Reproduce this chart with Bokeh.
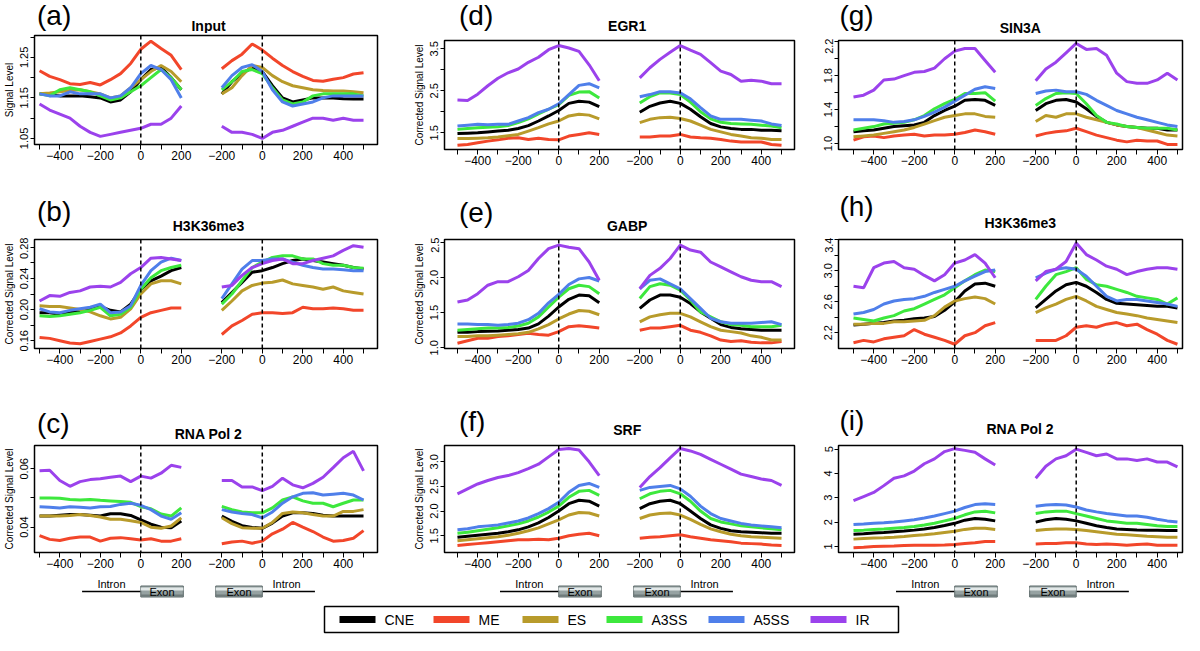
from bokeh.plotting import figure
from bokeh.models import Range1d, FixedTicker, Span
from bokeh.layouts import column, row
from bokeh.embed import file_html
from bokeh.resources import INLINE
from bokeh.core.properties import value

FONT = "Liberation Sans"
SERIES = ["CNE", "ME", "ES", "A3SS", "A5SS", "IR"]
COLORS = ["#000000", "#f2462a", "#b89b2b", "#3de83d", "#4f7fea", "#9b42ec"]

# positions (nt) around the splice site: intron->exon window and exon->intron window
POS_IE = [-500, -450, -400, -350, -300, -250, -200, -150, -100, -50, 0, 50, 100, 150, 200]
POS_EI = [-200, -150, -100, -50, 0, 50, 100, 150, 200, 250, 300, 350, 400, 450, 500]

X_TICKS_IE = [-500, -400, -300, -200, -100, 0, 100, 200]
X_LABELS_IE = ["", "\u2212400", "", "\u2212200", "", "0", "", "200"]
X_TICKS_EI = [-200, -100, 0, 100, 200, 300, 400, 500]
X_LABELS_EI = ["\u2212200", "", "0", "", "200", "", "400", ""]
EI_OFFSET = 600  # where the exon->intron window sits on the shared horizontal axis

# ---------------- (a) Input ----------------
a_ie = dict(
    CNE=[1.160, 1.158, 1.155, 1.155, 1.155, 1.153, 1.150, 1.140, 1.145, 1.165, 1.195, 1.220, 1.225, 1.200, 1.170],
    ME=[1.217, 1.203, 1.195, 1.185, 1.183, 1.188, 1.182, 1.195, 1.210, 1.235, 1.270, 1.290, 1.272, 1.255, 1.220],
    ES=[1.160, 1.162, 1.165, 1.168, 1.170, 1.165, 1.160, 1.150, 1.155, 1.175, 1.195, 1.215, 1.230, 1.215, 1.190],
    A3SS=[1.160, 1.155, 1.170, 1.175, 1.170, 1.165, 1.155, 1.145, 1.150, 1.165, 1.180, 1.200, 1.220, 1.200, 1.170],
    A5SS=[1.160, 1.155, 1.155, 1.165, 1.160, 1.160, 1.160, 1.150, 1.155, 1.175, 1.210, 1.230, 1.220, 1.195, 1.150],
    IR=[1.135, 1.120, 1.110, 1.100, 1.080, 1.065, 1.055, 1.060, 1.065, 1.070, 1.075, 1.085, 1.085, 1.100, 1.130],
)
a_ei = dict(
    CNE=[1.160, 1.190, 1.210, 1.225, 1.215, 1.180, 1.150, 1.140, 1.145, 1.150, 1.150, 1.150, 1.148, 1.147, 1.147],
    ME=[1.222, 1.242, 1.258, 1.283, 1.268, 1.248, 1.230, 1.215, 1.203, 1.193, 1.191, 1.196, 1.200, 1.209, 1.212],
    ES=[1.160, 1.175, 1.205, 1.230, 1.225, 1.205, 1.190, 1.180, 1.175, 1.170, 1.168, 1.167, 1.167, 1.165, 1.163],
    A3SS=[1.170, 1.190, 1.215, 1.220, 1.210, 1.175, 1.145, 1.135, 1.140, 1.155, 1.160, 1.160, 1.160, 1.160, 1.155],
    A5SS=[1.175, 1.205, 1.225, 1.232, 1.215, 1.170, 1.140, 1.130, 1.135, 1.140, 1.150, 1.155, 1.155, 1.155, 1.155],
    IR=[1.080, 1.065, 1.065, 1.060, 1.050, 1.065, 1.070, 1.080, 1.090, 1.100, 1.100, 1.095, 1.100, 1.095, 1.095],
)
# ---------------- (b) H3K36me3 ----------------
b_ie = dict(
    CNE=[0.196, 0.196, 0.194, 0.196, 0.199, 0.201, 0.204, 0.199, 0.197, 0.207, 0.226, 0.237, 0.243, 0.250, 0.254],
    ME=[0.164, 0.163, 0.160, 0.157, 0.156, 0.159, 0.162, 0.165, 0.170, 0.179, 0.190, 0.196, 0.199, 0.202, 0.202],
    ES=[0.205, 0.204, 0.204, 0.202, 0.200, 0.197, 0.192, 0.188, 0.190, 0.201, 0.220, 0.233, 0.237, 0.237, 0.233],
    A3SS=[0.192, 0.191, 0.192, 0.194, 0.196, 0.199, 0.203, 0.192, 0.194, 0.203, 0.226, 0.241, 0.250, 0.254, 0.257],
    A5SS=[0.201, 0.197, 0.196, 0.199, 0.201, 0.203, 0.207, 0.196, 0.197, 0.205, 0.231, 0.250, 0.261, 0.266, 0.263],
    IR=[0.211, 0.218, 0.217, 0.222, 0.224, 0.229, 0.230, 0.229, 0.235, 0.246, 0.254, 0.266, 0.267, 0.265, 0.263],
)
b_ei = dict(
    CNE=[0.209, 0.222, 0.235, 0.248, 0.250, 0.254, 0.259, 0.263, 0.265, 0.263, 0.261, 0.259, 0.257, 0.254, 0.252],
    ME=[0.168, 0.179, 0.186, 0.194, 0.196, 0.196, 0.195, 0.196, 0.203, 0.201, 0.201, 0.202, 0.201, 0.199, 0.199],
    ES=[0.199, 0.211, 0.224, 0.231, 0.234, 0.235, 0.238, 0.233, 0.231, 0.229, 0.226, 0.229, 0.224, 0.222, 0.220],
    A3SS=[0.207, 0.220, 0.237, 0.254, 0.261, 0.267, 0.269, 0.269, 0.265, 0.265, 0.259, 0.257, 0.257, 0.254, 0.253],
    A5SS=[0.214, 0.233, 0.252, 0.263, 0.263, 0.265, 0.265, 0.261, 0.257, 0.254, 0.252, 0.252, 0.251, 0.250, 0.250],
    IR=[0.229, 0.231, 0.244, 0.254, 0.259, 0.263, 0.265, 0.259, 0.259, 0.263, 0.266, 0.269, 0.276, 0.282, 0.280],
)
# ---------------- (c) RNA Pol 2 ----------------
c_ie = dict(
    CNE=[0.0438, 0.0438, 0.0441, 0.0443, 0.0443, 0.0441, 0.0438, 0.0446, 0.0446, 0.0440, 0.0425, 0.0410, 0.0400, 0.0398, 0.0421],
    ME=[0.0371, 0.0358, 0.0354, 0.0362, 0.0366, 0.0366, 0.0352, 0.0362, 0.0364, 0.0360, 0.0356, 0.0360, 0.0352, 0.0352, 0.0360],
    ES=[0.0438, 0.0438, 0.0438, 0.0440, 0.0443, 0.0440, 0.0435, 0.0427, 0.0427, 0.0422, 0.0416, 0.0400, 0.0396, 0.0404, 0.0432],
    A3SS=[0.0500, 0.0500, 0.0499, 0.0495, 0.0493, 0.0495, 0.0492, 0.0490, 0.0488, 0.0485, 0.0470, 0.0463, 0.0445, 0.0438, 0.0466],
    A5SS=[0.0470, 0.0468, 0.0466, 0.0470, 0.0468, 0.0466, 0.0470, 0.0471, 0.0478, 0.0482, 0.0475, 0.0460, 0.0438, 0.0427, 0.0449],
    IR=[0.0593, 0.0595, 0.0560, 0.0540, 0.0556, 0.0563, 0.0566, 0.0571, 0.0575, 0.0556, 0.0575, 0.0568, 0.0585, 0.0612, 0.0605],
)
c_ei = dict(
    CNE=[0.0438, 0.0420, 0.0405, 0.0399, 0.0396, 0.0414, 0.0438, 0.0449, 0.0449, 0.0447, 0.0441, 0.0438, 0.0438, 0.0438, 0.0438],
    ME=[0.0343, 0.0349, 0.0352, 0.0345, 0.0352, 0.0377, 0.0393, 0.0416, 0.0400, 0.0385, 0.0366, 0.0352, 0.0354, 0.0362, 0.0388],
    ES=[0.0432, 0.0412, 0.0398, 0.0396, 0.0396, 0.0416, 0.0447, 0.0452, 0.0449, 0.0443, 0.0438, 0.0438, 0.0454, 0.0454, 0.0460],
    A3SS=[0.0471, 0.0460, 0.0452, 0.0449, 0.0449, 0.0466, 0.0493, 0.0504, 0.0490, 0.0482, 0.0482, 0.0470, 0.0482, 0.0493, 0.0493],
    A5SS=[0.0460, 0.0452, 0.0447, 0.0443, 0.0432, 0.0452, 0.0482, 0.0504, 0.0516, 0.0518, 0.0510, 0.0513, 0.0516, 0.0510, 0.0493],
    IR=[0.0560, 0.0560, 0.0538, 0.0538, 0.0525, 0.0540, 0.0568, 0.0545, 0.0535, 0.0550, 0.0571, 0.0604, 0.0638, 0.0660, 0.0593],
)
# ---------------- (d) EGR1 ----------------
d_ie = dict(
    CNE=[1.48, 1.49, 1.50, 1.52, 1.54, 1.56, 1.60, 1.67, 1.78, 1.90, 2.03, 2.20, 2.25, 2.23, 2.12],
    ME=[1.20, 1.22, 1.26, 1.30, 1.33, 1.37, 1.38, 1.34, 1.37, 1.34, 1.33, 1.42, 1.46, 1.50, 1.46],
    ES=[1.36, 1.36, 1.37, 1.38, 1.40, 1.43, 1.46, 1.54, 1.62, 1.71, 1.78, 1.90, 1.94, 1.92, 1.83],
    A3SS=[1.58, 1.60, 1.62, 1.63, 1.64, 1.67, 1.74, 1.83, 1.95, 2.06, 2.17, 2.39, 2.47, 2.48, 2.33],
    A5SS=[1.66, 1.68, 1.70, 1.69, 1.70, 1.70, 1.78, 1.86, 1.98, 2.06, 2.19, 2.41, 2.63, 2.67, 2.57],
    IR=[2.28, 2.27, 2.42, 2.62, 2.80, 2.93, 3.02, 3.18, 3.30, 3.48, 3.58, 3.52, 3.44, 3.12, 2.74],
)
d_ei = dict(
    CNE=[1.99, 2.13, 2.21, 2.25, 2.20, 2.06, 1.88, 1.72, 1.64, 1.60, 1.58, 1.58, 1.56, 1.56, 1.55],
    ME=[1.40, 1.40, 1.42, 1.42, 1.46, 1.40, 1.38, 1.37, 1.34, 1.30, 1.28, 1.28, 1.28, 1.22, 1.20],
    ES=[1.74, 1.82, 1.86, 1.87, 1.84, 1.78, 1.68, 1.58, 1.52, 1.46, 1.42, 1.38, 1.37, 1.34, 1.34],
    A3SS=[2.21, 2.36, 2.45, 2.45, 2.41, 2.23, 2.00, 1.83, 1.75, 1.72, 1.71, 1.70, 1.68, 1.66, 1.62],
    A5SS=[2.36, 2.41, 2.48, 2.48, 2.45, 2.31, 2.10, 1.90, 1.82, 1.82, 1.82, 1.80, 1.78, 1.71, 1.67],
    IR=[2.81, 3.05, 3.25, 3.42, 3.58, 3.47, 3.37, 3.17, 2.97, 2.89, 2.73, 2.75, 2.73, 2.67, 2.67],
)
# ---------------- (e) GABP ----------------
e_ie = dict(
    CNE=[1.22, 1.22, 1.23, 1.235, 1.24, 1.25, 1.26, 1.28, 1.34, 1.45, 1.58, 1.69, 1.75, 1.74, 1.64],
    ME=[1.065, 1.10, 1.135, 1.135, 1.16, 1.17, 1.19, 1.205, 1.19, 1.18, 1.23, 1.30, 1.315, 1.30, 1.28],
    ES=[1.16, 1.16, 1.17, 1.17, 1.18, 1.19, 1.20, 1.22, 1.27, 1.33, 1.41, 1.48, 1.53, 1.52, 1.47],
    A3SS=[1.25, 1.26, 1.27, 1.28, 1.28, 1.29, 1.31, 1.35, 1.44, 1.58, 1.72, 1.84, 1.89, 1.87, 1.77],
    A5SS=[1.34, 1.34, 1.33, 1.33, 1.32, 1.33, 1.35, 1.40, 1.49, 1.64, 1.76, 1.90, 1.98, 2.00, 1.95],
    IR=[1.65, 1.68, 1.77, 1.89, 1.94, 1.94, 2.01, 2.10, 2.27, 2.41, 2.46, 2.43, 2.41, 2.22, 1.96],
)
e_ei = dict(
    CNE=[1.56, 1.68, 1.75, 1.75, 1.72, 1.63, 1.51, 1.42, 1.33, 1.29, 1.27, 1.26, 1.25, 1.25, 1.25],
    ME=[1.25, 1.28, 1.28, 1.30, 1.32, 1.25, 1.22, 1.17, 1.11, 1.09, 1.10, 1.08, 1.07, 1.07, 1.09],
    ES=[1.37, 1.44, 1.47, 1.49, 1.49, 1.44, 1.37, 1.30, 1.25, 1.23, 1.21, 1.17, 1.15, 1.11, 1.11],
    A3SS=[1.70, 1.87, 1.91, 1.89, 1.82, 1.68, 1.51, 1.44, 1.37, 1.33, 1.32, 1.30, 1.30, 1.30, 1.32],
    A5SS=[1.84, 1.96, 1.98, 1.91, 1.84, 1.70, 1.56, 1.42, 1.37, 1.35, 1.35, 1.35, 1.36, 1.37, 1.33],
    IR=[1.84, 2.03, 2.13, 2.27, 2.46, 2.39, 2.36, 2.22, 2.15, 2.08, 2.01, 1.96, 1.94, 1.94, 1.87],
)
# ---------------- (f) SRF ----------------
f_ie = dict(
    CNE=[1.47, 1.49, 1.51, 1.53, 1.55, 1.58, 1.62, 1.68, 1.76, 1.87, 2.00, 2.15, 2.22, 2.20, 2.10],
    ME=[1.30, 1.32, 1.34, 1.36, 1.38, 1.40, 1.42, 1.42, 1.43, 1.42, 1.45, 1.50, 1.53, 1.55, 1.50],
    ES=[1.40, 1.42, 1.44, 1.46, 1.48, 1.51, 1.55, 1.60, 1.66, 1.74, 1.82, 1.92, 1.97, 1.96, 1.90],
    A3SS=[1.55, 1.57, 1.60, 1.63, 1.66, 1.70, 1.74, 1.80, 1.88, 1.98, 2.10, 2.28, 2.40, 2.42, 2.32],
    A5SS=[1.62, 1.64, 1.68, 1.70, 1.72, 1.76, 1.80, 1.86, 1.95, 2.05, 2.18, 2.38, 2.52, 2.56, 2.48],
    IR=[2.35, 2.45, 2.55, 2.62, 2.68, 2.72, 2.78, 2.86, 2.95, 3.10, 3.25, 3.27, 3.24, 3.00, 2.72],
)
f_ei = dict(
    CNE=[2.05, 2.15, 2.20, 2.22, 2.15, 2.00, 1.85, 1.72, 1.65, 1.60, 1.58, 1.57, 1.56, 1.55, 1.55],
    ME=[1.45, 1.47, 1.48, 1.50, 1.52, 1.48, 1.45, 1.42, 1.40, 1.38, 1.35, 1.34, 1.33, 1.31, 1.30],
    ES=[1.85, 1.92, 1.95, 1.96, 1.92, 1.83, 1.73, 1.64, 1.58, 1.53, 1.50, 1.48, 1.47, 1.46, 1.45],
    A3SS=[2.25, 2.35, 2.40, 2.42, 2.35, 2.20, 2.00, 1.85, 1.78, 1.74, 1.70, 1.68, 1.66, 1.64, 1.62],
    A5SS=[2.42, 2.48, 2.50, 2.52, 2.45, 2.30, 2.10, 1.95, 1.85, 1.80, 1.75, 1.72, 1.70, 1.68, 1.66],
    IR=[2.48, 2.70, 2.88, 3.08, 3.27, 3.22, 3.15, 3.05, 2.95, 2.85, 2.75, 2.70, 2.65, 2.62, 2.52],
)
# ---------------- (g) SIN3A ----------------
g_ie = dict(
    CNE=[1.14, 1.15, 1.16, 1.18, 1.20, 1.21, 1.22, 1.25, 1.33, 1.39, 1.44, 1.51, 1.52, 1.51, 1.45],
    ME=[1.04, 1.08, 1.09, 1.07, 1.09, 1.10, 1.11, 1.09, 1.10, 1.10, 1.11, 1.13, 1.16, 1.14, 1.11],
    ES=[1.08, 1.09, 1.10, 1.12, 1.14, 1.16, 1.19, 1.23, 1.27, 1.31, 1.33, 1.35, 1.35, 1.32, 1.31],
    A3SS=[1.16, 1.18, 1.20, 1.23, 1.24, 1.25, 1.28, 1.33, 1.41, 1.47, 1.52, 1.59, 1.59, 1.60, 1.50],
    A5SS=[1.28, 1.28, 1.28, 1.27, 1.25, 1.26, 1.28, 1.32, 1.37, 1.43, 1.50, 1.57, 1.64, 1.67, 1.65],
    IR=[1.55, 1.57, 1.63, 1.75, 1.76, 1.80, 1.84, 1.85, 1.89, 2.00, 2.09, 2.12, 2.12, 1.98, 1.84],
)
g_ei = dict(
    CNE=[1.39, 1.47, 1.51, 1.52, 1.49, 1.41, 1.32, 1.25, 1.22, 1.20, 1.19, 1.18, 1.18, 1.16, 1.16],
    ME=[1.09, 1.12, 1.14, 1.15, 1.18, 1.14, 1.10, 1.07, 1.04, 1.02, 1.04, 1.03, 1.03, 0.99, 0.99],
    ES=[1.26, 1.33, 1.31, 1.35, 1.35, 1.31, 1.28, 1.25, 1.22, 1.20, 1.19, 1.16, 1.13, 1.10, 1.09],
    A3SS=[1.45, 1.53, 1.59, 1.60, 1.59, 1.47, 1.33, 1.25, 1.23, 1.20, 1.19, 1.18, 1.18, 1.18, 1.16],
    A5SS=[1.59, 1.62, 1.63, 1.61, 1.61, 1.58, 1.51, 1.45, 1.39, 1.35, 1.31, 1.28, 1.25, 1.22, 1.20],
    IR=[1.74, 1.88, 1.96, 2.07, 2.18, 2.11, 2.12, 2.04, 1.83, 1.73, 1.71, 1.71, 1.75, 1.83, 1.75],
)
# ---------------- (h) H3K36me3 ----------------
h_ie = dict(
    CNE=[2.30, 2.31, 2.32, 2.33, 2.35, 2.36, 2.38, 2.39, 2.41, 2.49, 2.60, 2.74, 2.83, 2.84, 2.80],
    ME=[2.07, 2.10, 2.08, 2.12, 2.14, 2.16, 2.24, 2.18, 2.14, 2.10, 2.05, 2.16, 2.20, 2.29, 2.33],
    ES=[2.31, 2.31, 2.32, 2.32, 2.34, 2.34, 2.35, 2.36, 2.42, 2.53, 2.61, 2.64, 2.66, 2.64, 2.57],
    A3SS=[2.39, 2.37, 2.35, 2.39, 2.42, 2.48, 2.51, 2.57, 2.63, 2.69, 2.78, 2.87, 2.95, 3.01, 2.99],
    A5SS=[2.44, 2.46, 2.50, 2.57, 2.61, 2.63, 2.64, 2.67, 2.72, 2.76, 2.80, 2.87, 2.93, 2.99, 3.01],
    IR=[2.80, 2.78, 3.04, 3.10, 3.12, 3.04, 3.02, 2.94, 2.87, 2.95, 3.10, 3.14, 3.21, 3.10, 2.91],
)
h_ei = dict(
    CNE=[2.52, 2.63, 2.74, 2.82, 2.85, 2.80, 2.72, 2.63, 2.58, 2.57, 2.56, 2.55, 2.54, 2.54, 2.52],
    ME=[2.10, 2.10, 2.10, 2.16, 2.27, 2.29, 2.27, 2.31, 2.33, 2.29, 2.31, 2.24, 2.18, 2.10, 2.05],
    ES=[2.46, 2.52, 2.57, 2.63, 2.67, 2.61, 2.54, 2.50, 2.46, 2.44, 2.42, 2.39, 2.37, 2.35, 2.33],
    A3SS=[2.63, 2.80, 2.95, 2.99, 3.04, 2.89, 2.82, 2.80, 2.76, 2.72, 2.67, 2.65, 2.63, 2.57, 2.65],
    A5SS=[2.91, 2.97, 3.02, 3.04, 3.02, 2.93, 2.80, 2.67, 2.61, 2.63, 2.63, 2.61, 2.59, 2.57, 2.54],
    IR=[2.87, 2.99, 3.02, 3.12, 3.36, 3.21, 3.14, 3.06, 3.02, 2.95, 2.99, 3.02, 3.04, 3.04, 3.02],
)
# ---------------- (i) RNA Pol 2 ----------------
i_ie = dict(
    CNE=[1.50, 1.52, 1.55, 1.57, 1.60, 1.63, 1.67, 1.72, 1.78, 1.86, 1.95, 2.08, 2.15, 2.12, 2.05],
    ME=[0.95, 0.97, 1.00, 1.01, 1.02, 1.04, 1.05, 1.05, 1.05, 1.06, 1.08, 1.12, 1.15, 1.20, 1.20],
    ES=[1.30, 1.33, 1.35, 1.36, 1.38, 1.41, 1.45, 1.48, 1.52, 1.57, 1.62, 1.70, 1.75, 1.75, 1.70],
    A3SS=[1.65, 1.67, 1.70, 1.72, 1.75, 1.78, 1.82, 1.88, 1.95, 2.05, 2.15, 2.30, 2.42, 2.45, 2.38],
    A5SS=[1.90, 1.92, 1.95, 1.97, 2.00, 2.05, 2.10, 2.17, 2.25, 2.35, 2.45, 2.60, 2.72, 2.75, 2.72],
    IR=[2.88, 3.05, 3.22, 3.50, 3.80, 3.90, 4.10, 4.40, 4.60, 4.90, 5.02, 4.95, 4.87, 4.60, 4.35],
)
i_ei = dict(
    CNE=[2.00, 2.10, 2.15, 2.12, 2.05, 1.95, 1.85, 1.78, 1.72, 1.70, 1.68, 1.67, 1.66, 1.65, 1.65],
    ME=[1.10, 1.12, 1.12, 1.15, 1.15, 1.10, 1.08, 1.10, 1.08, 1.05, 1.08, 1.10, 1.05, 1.05, 1.05],
    ES=[1.65, 1.70, 1.72, 1.72, 1.70, 1.65, 1.60, 1.55, 1.50, 1.48, 1.45, 1.42, 1.40, 1.38, 1.38],
    A3SS=[2.35, 2.42, 2.45, 2.45, 2.35, 2.25, 2.15, 2.05, 2.00, 1.95, 1.95, 1.90, 1.85, 1.82, 1.82],
    A5SS=[2.65, 2.70, 2.72, 2.70, 2.62, 2.50, 2.42, 2.35, 2.30, 2.25, 2.25, 2.20, 2.12, 2.05, 2.00],
    IR=[3.80, 4.30, 4.60, 4.73, 5.00, 4.87, 4.73, 4.80, 4.60, 4.60, 4.53, 4.60, 4.47, 4.47, 4.27],
)

# panel texts, ordered [column][row]
PANEL_TITLES = [["Input", "H3K36me3", "RNA Pol 2"], ["EGR1", "GABP", "SRF"], ["SIN3A", "H3K36me3", "RNA Pol 2"]]
PANEL_TAGS = [["(a)", "(b)", "(c)"], ["(d)", "(e)", "(f)"], ["(g)", "(h)", "(i)"]]
Y_TITLES = [["Signal Level", "Corrected Signal Level", "Corrected Signal Level"],
            ["Corrected Signal Level", "Corrected Signal Level", "Corrected Signal Level"],
            [None, None, None]]
DATA = [[(a_ie, a_ei), (b_ie, b_ei), (c_ie, c_ei)],
        [(d_ie, d_ei), (e_ie, e_ei), (f_ie, f_ei)],
        [(g_ie, g_ei), (h_ie, h_ei), (i_ie, i_ei)]]
Y_RANGES = [[(1.035, 1.304), (0.150, 0.290), (0.0313, 0.068)],
            [(1.10, 3.70), (0.99, 2.54), (1.16, 3.33)],
            [(0.93, 2.215), (1.995, 3.405), (0.75, 5.15)]]
Y_TICKS = [[[1.05, 1.10, 1.15, 1.20, 1.25, 1.30], [0.16, 0.18, 0.20, 0.22, 0.24, 0.26, 0.28], [0.04, 0.05, 0.06]],
           [[1.5, 2.0, 2.5, 3.0, 3.5], [1.0, 1.5, 2.0, 2.5], [1.5, 2.0, 2.5, 3.0]],
           [[1.0, 1.2, 1.4, 1.6, 1.8, 2.0, 2.2], [2.2, 2.4, 2.6, 2.8, 3.0, 3.2, 3.4], [1, 2, 3, 4, 5]]]
Y_TICK_LABELS = [[["1.05", "", "1.15", "", "1.25", ""], ["0.16", "", "0.20", "", "0.24", "", "0.28"], ["0.04", "", "0.06"]],
                 [["1.5", "", "2.5", "", "3.5"], ["1.0", "1.5", "2.0", "2.5"], ["1.5", "2.0", "2.5", "3.0"]],
                 [["1.0", "", "1.4", "", "1.8", "", "2.2"], ["2.2", "", "2.6", "", "3.0", "", "3.4"], ["1", "2", "3", "4", "5"]]]

# ---------------- layout constants (pixels) ----------------
COL_FIG_W = [405, 410, 369]
COL_BL = [34, 39, 23]
COL_FW = [343, 350, 344]
COL_XR = [(-525, 1169), (-564, 1164), (-574, 1125)]
COL_TAG_DX = [-31, -22, -22]
ROW_FIG_H = [190, 212, 169]
FRAME_H = [109, 109, 107]
TOP_BORDER = [[35, 49, 43], [40, 49, 43], [40, 49, 43]]   # [col][row]: space above each frame
TITLE_UP = [[10, 14, 12], [15, 14, 16], [13, 17, 17]]
TAG_UP = [[20, 28, 22], [25, 27, 24], [25, 33, 25]]
PAD_TOP = 2
GENE_H = 31
LEG_H = 33
PAGE_W = 1184


def bare_figure(width, height, xr, yr, left=0, right=0, extra=None):
    f = figure(width=width, height=height, output_backend="svg", toolbar_location=None,
               x_range=Range1d(*xr), y_range=Range1d(*yr),
               extra_x_ranges=extra or {},
               x_axis_location=None, y_axis_location=None,
               min_border_left=left, min_border_right=right, min_border_top=0, min_border_bottom=0)
    f.xgrid.visible = False
    f.ygrid.visible = False
    f.outline_line_color = None
    f.background_fill_color = "white"
    f.border_fill_color = "white"
    return f


def make_header(ci, ri):
    W = COL_FIG_W[ci]
    hh = TOP_BORDER[ci][ri] - PAD_TOP
    h = bare_figure(W, hh, (0, W), (0, hh))
    cx = COL_BL[ci] + COL_FW[ci] / 2
    h.text(x=[cx], y=[TITLE_UP[ci][ri] - PAD_TOP], text=[PANEL_TITLES[ci][ri]],
           text_font=value(FONT), text_font_style="bold", text_font_size=value("14px"),
           text_align="center", text_baseline="middle", text_color="black")
    h.text(x=[COL_BL[ci] + COL_TAG_DX[ci]], y=[TAG_UP[ci][ri] - PAD_TOP], text=[PANEL_TAGS[ci][ri]],
           text_font=value(FONT), text_font_size=value("28px"),
           text_align="left", text_baseline="middle", text_color="black")
    return h


def make_panel(ci, ri):
    W = COL_FIG_W[ci]
    H = ROW_FIG_H[ri] - (TOP_BORDER[ci][ri] - PAD_TOP)
    left, fw = COL_BL[ci], COL_FW[ci]
    fh = FRAME_H[ri]
    xr = COL_XR[ci]
    p = figure(width=W, height=H, output_backend="svg", toolbar_location=None,
               x_range=Range1d(*xr), y_range=Range1d(*Y_RANGES[ci][ri]),
               extra_x_ranges={"ei": Range1d(xr[0] - EI_OFFSET, xr[1] - EI_OFFSET)},
               min_border_left=left, min_border_right=W - left - fw,
               min_border_top=PAD_TOP, min_border_bottom=H - PAD_TOP - fh)
    p.xgrid.visible = False
    p.ygrid.visible = False
    p.outline_line_color = "black"
    p.outline_line_width = 1.5
    p.outline_line_alpha = 1.0
    p.background_fill_color = "white"
    p.border_fill_color = "white"

    ticks = X_TICKS_IE + [t + EI_OFFSET for t in X_TICKS_EI]
    labels = X_LABELS_IE + X_LABELS_EI
    ax = p.xaxis[0]
    ax.ticker = FixedTicker(ticks=ticks, minor_ticks=[])
    ax.major_label_overrides = {t: l for t, l in zip(ticks, labels)}
    ax.axis_line_color = None
    ax.major_tick_in = 0
    ax.major_tick_out = 5
    ax.major_tick_line_color = "black"
    ax.minor_tick_line_color = None
    ax.major_label_standoff = 1
    ax.major_label_text_font = FONT
    ax.major_label_text_font_size = "12px"
    ax.major_label_text_color = "black"

    ay = p.yaxis[0]
    yt = Y_TICKS[ci][ri]
    ay.ticker = FixedTicker(ticks=yt, minor_ticks=[])
    ay.major_label_overrides = {t: l for t, l in zip(yt, Y_TICK_LABELS[ci][ri])}
    ay.axis_line_color = None
    ay.major_tick_in = 0
    ay.major_tick_out = 4
    ay.major_tick_line_color = "black"
    ay.minor_tick_line_color = None
    ay.major_label_orientation = "parallel"
    ay.major_label_standoff = 2
    ay.major_label_text_font = FONT
    ay.major_label_text_font_size = "11px"
    ay.major_label_text_color = "black"
    if Y_TITLES[ci][ri]:
        ay.axis_label = Y_TITLES[ci][ri]
        ay.axis_label_text_font = FONT
        ay.axis_label_text_font_size = "10px"
        ay.axis_label_text_font_style = "normal"
        ay.axis_label_text_color = "black"
        ay.axis_label_standoff = 3

    ie, ei = DATA[ci][ri]
    for name, color in zip(SERIES, COLORS):
        p.line(POS_IE, ie[name], line_color=color, line_width=3)
        p.line(POS_EI, ei[name], line_color=color, line_width=3, x_range_name="ei")

    p.add_layout(Span(location=0, dimension="height", line_color="black",
                      line_dash="4 3", line_width=1.5))
    p.add_layout(Span(location=0, dimension="height", line_color="black",
                      line_dash="4 3", line_width=1.5, x_range_name="ei"))
    return p


def draw_exon(g, x0, x1, rname, ymid):
    g.quad(left=[x0], right=[x1], bottom=[ymid - 5.5], top=[ymid + 5.5],
           fill_color="#96a2a2", line_color="#5d6a6a", line_width=1, x_range_name=rname)
    g.quad(left=[x0], right=[x1], bottom=[ymid + 1.0], top=[ymid + 4.0],
           fill_color="#e2e8e8", line_color=None, x_range_name=rname)
    g.quad(left=[x0], right=[x1], bottom=[ymid - 5.0], top=[ymid - 3.0],
           fill_color="#6f7b7b", line_color=None, x_range_name=rname)
    g.text(x=[(x0 + x1) / 2], y=[ymid - 0.5], text=["Exon"], x_range_name=rname,
           text_font=value(FONT), text_font_size=value("11px"), text_align="center",
           text_baseline="middle", text_color="black")


def make_gene(ci):
    W, left, fw = COL_FIG_W[ci], COL_BL[ci], COL_FW[ci]
    xr = COL_XR[ci]
    g = bare_figure(W, GENE_H, xr, (0, GENE_H), left=left, right=W - left - fw,
                    extra={"ei": Range1d(xr[0] - EI_OFFSET, xr[1] - EI_OFFSET)})
    ly = 11
    # intron -> exon
    g.segment(x0=[-290], y0=[ly], x1=[0], y1=[ly], line_color="black", line_width=1.5)
    draw_exon(g, 0, 210, "default", ly)
    g.text(x=[-145], y=[ly + 2], text=["Intron"], text_font=value(FONT),
           text_font_size=value("11px"), text_align="center", text_baseline="bottom",
           text_color="black")
    # exon -> intron
    g.segment(x0=[0], y0=[ly], x1=[260], y1=[ly], line_color="black", line_width=1.5,
              x_range_name="ei")
    draw_exon(g, -230, 0, "ei", ly)
    g.text(x=[120], y=[ly + 2], text=["Intron"], x_range_name="ei", text_font=value(FONT),
           text_font_size=value("11px"), text_align="center", text_baseline="bottom",
           text_color="black")
    return g


LEG_BOX = (324, 898, 3, 29)
LEG_X = [339, 433, 522, 606, 708, 810]


def make_legend():
    lg = bare_figure(PAGE_W, LEG_H, (0, PAGE_W), (0, LEG_H))
    l, r, b, t = LEG_BOX
    lg.quad(left=[l], right=[r], bottom=[b], top=[t], fill_color=None,
            line_color="black", line_width=1.5)
    ym = (b + t) / 2
    for x0, name, color in zip(LEG_X, SERIES, COLORS):
        lg.segment(x0=[x0], y0=[ym], x1=[x0 + 36], y1=[ym], line_color=color, line_width=7)
        lg.text(x=[x0 + 45], y=[ym], text=[name], text_font=value(FONT),
                text_font_size=value("14px"), text_align="left", text_baseline="middle",
                text_color="black")
    return lg


cols = []
for ci in range(3):
    parts = []
    for ri in range(3):
        parts.append(make_header(ci, ri))
        parts.append(make_panel(ci, ri))
    parts.append(make_gene(ci))
    cols.append(column(*parts))
layout = column(row(*cols), make_legend())

open("out.html", "w").write(file_html(layout, INLINE, "Signal profiles around splice sites"))
